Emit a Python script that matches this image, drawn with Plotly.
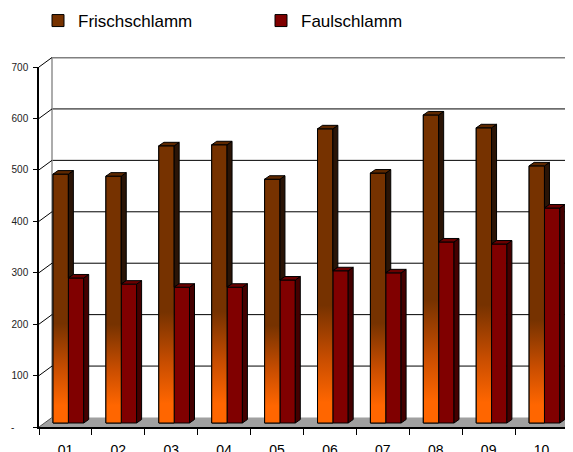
import plotly.graph_objects as go

# ---------------- data ----------------
months = ["01", "02", "03", "04", "05", "06", "07", "08", "09", "10"]
frisch = [484, 480, 539, 541, 474, 572, 486, 599, 574, 500]
faul = [282, 270, 264, 264, 278, 296, 292, 352, 348, 418]
series_names = ["Frischschlamm", "Faulschlamm"]
y_ticks = [0, 100, 200, 300, 400, 500, 600, 700]
y_ticktext = ["-\u00a0\u00a0\u00a0\u00a0\u00a0", "100", "200", "300", "400", "500", "600", "700"]

# ---------------- geometry / style ----------------
PAGE_OFF = 8             # default body margin of the html page
W, H = 573 - PAGE_OFF, 452 - PAGE_OFF
L, R, T, B = 39 - PAGE_OFF, 0, 57 - PAGE_OFF, 25
PW = W - L - R           # plot area width (px)
PH = H - T - B           # plot area height (px)
FRONT_W = 529            # px of front category axis
FRONT_H = 360            # px of front value axis (0..700)
n = len(months)
VMAX = y_ticks[-1]
cat_px = FRONT_W / n
val_px = FRONT_H / VMAX
X0 = -0.5
XMAX = X0 + PW / cat_px
YMAX = PH / val_px
DX = 13 / cat_px          # back-wall depth offset (x)
DY = 9.5 / val_px         # back-wall depth offset (y)
BASE = 4 / val_px         # bars stand at mid depth
SDX = 5 / cat_px          # bar depth (x)
SDY = 3.5 / val_px        # bar depth (y)
OFF_F = -0.235
BW = 0.29
OFF_A = OFF_F + BW

C_FR = "#763200"
C_FR_SIDE = "#2A1406"
C_FR_TOP = "#5E2800"
C_FA = "#800000"
C_FA_SIDE = "#440000"
C_FA_TOP = "#6A0000"
FONT = "Liberation Sans, Arial, sans-serif"

idx = list(range(n))
fig = go.Figure()

# front faces as bars
fig.add_trace(go.Bar(x=idx, y=frisch, base=BASE, offset=OFF_F, width=BW,
                     name=series_names[0], marker=dict(color=C_FR, line=dict(color="black", width=1))))
fig.add_trace(go.Bar(x=idx, y=faul, base=BASE, offset=OFF_A, width=BW,
                     name=series_names[1], marker=dict(color=C_FA, line=dict(color="black", width=1))))

# gradient shading of the Frischschlamm front faces
for i, v in enumerate(frisch):
    xl, xr = i + OFF_F, i + OFF_F + BW
    fig.add_trace(go.Scatter(
        x=[xl, xl, xr, xr, xl], y=[BASE, BASE + v, BASE + v, BASE, BASE],
        mode="lines", fill="toself", line=dict(color="black", width=1),
        fillgradient=dict(type="vertical",
                          colorscale=[[0, "#FF6600"], [0.45, "#C84D00"], [1, C_FR]],
                          start=BASE + 0.07 * v, stop=BASE + 0.40 * v),
        showlegend=False, hoverinfo="skip"))


def faces(vals, off, lower=None):
    sx, sy, tx, ty = [], [], [], []
    for i, v in enumerate(vals):
        xl, xr = i + off, i + off + BW
        top = BASE + v
        low = BASE if lower is None else BASE + min(lower[i], v)
        sx += [xr, xr, xr + SDX, xr + SDX, xr, None]
        sy += [low, top, top + SDY, low + SDY, low, None]
        tx += [xl, xr, xr + SDX, xl + SDX, xl, None]
        ty += [top, top, top + SDY, top + SDY, top, None]
    return sx, sy, tx, ty


fsx, fsy, ftx, fty = faces(frisch, OFF_F, lower=faul)
asx, asy, atx, aty = faces(faul, OFF_A)
for xs, ys, col in [(fsx, fsy, C_FR_SIDE), (ftx, fty, C_FR_TOP), (asx, asy, C_FA_SIDE), (atx, aty, C_FA_TOP)]:
    fig.add_trace(go.Scatter(x=xs, y=ys, mode="lines", fill="toself", fillcolor=col,
                             line=dict(color="black", width=1), showlegend=False, hoverinfo="skip"))

# invisible trace so that the front axes (ticks / labels) are drawn
fig.add_trace(go.Scatter(x=[0], y=[0], xaxis="x2", yaxis="y2", mode="markers",
                         marker=dict(opacity=0), showlegend=False, hoverinfo="skip"))

# ---------------- walls, floor, grid (below traces) ----------------
shapes = []
shapes.append(dict(type="path", xref="x", yref="y", layer="below",
                   path=f"M {X0},0 L {X0 + n},0 L {X0 + n + DX},{DY} L {X0 + DX},{DY} Z",
                   fillcolor="#A0A0A0", line=dict(width=0)))
for v in y_ticks[1:-1]:
    shapes.append(dict(type="line", xref="x", yref="y", layer="below",
                       x0=X0 + DX, x1=XMAX, y0=v + DY, y1=v + DY, line=dict(color="black", width=1)))
shapes.append(dict(type="line", xref="x", yref="y", layer="below",
                   x0=X0 + DX, x1=XMAX, y0=VMAX + DY, y1=VMAX + DY, line=dict(color="#808080", width=2)))
shapes.append(dict(type="line", xref="x", yref="y", layer="below",
                   x0=X0 + DX, x1=X0 + DX, y0=DY, y1=VMAX + DY, line=dict(color="#909090", width=1.5)))
for v in y_ticks:
    shapes.append(dict(type="line", xref="x", yref="y", layer="below",
                       x0=X0, x1=X0 + DX, y0=v, y1=v + DY,
                       line=dict(color="black" if v else "#555555", width=1)))

fig.update_layout(
    width=W, height=H,
    margin=dict(l=L, r=R, t=T, b=B, pad=0, autoexpand=False),
    paper_bgcolor="white", plot_bgcolor="rgba(0,0,0,0)",
    barmode="overlay",
    shapes=shapes,
    font=dict(family=FONT, color="black"),
    xaxis=dict(domain=[0, 1], range=[X0, XMAX], visible=False, anchor="y"),
    yaxis=dict(domain=[0, 1], range=[0, YMAX], visible=False, anchor="x"),
    xaxis2=dict(domain=[0, FRONT_W / PW], range=[X0, X0 + n], anchor="y2",
                tickmode="array", tickvals=idx, ticktext=months,
                ticks="outside", ticklen=9, tickcolor="rgba(0,0,0,0)",
                minor=dict(tickmode="array", tickvals=[X0 + k for k in range(n + 1)],
                           ticks="outside", ticklen=6, tickcolor="black", tickwidth=1, showgrid=False),
                showline=True, linecolor="black", linewidth=1.5,
                showgrid=False, zeroline=False, tickfont=dict(size=14, color="black")),
    yaxis2=dict(domain=[0, FRONT_H / PH], range=[0, VMAX], anchor="x2",
                tickmode="array", tickvals=y_ticks, ticktext=y_ticktext,
                ticks="outside", ticklen=4, tickcolor="black", tickwidth=1, ticklabelstandoff=3,
                showline=True, linecolor="black", linewidth=1.5,
                showgrid=False, zeroline=False, tickfont=dict(size=10, color="#222222")),
    legend=dict(orientation="h", x=(38 - 39) / PW, y=(PH + T + 5) / PH, xanchor="left", yanchor="top",
                font=dict(size=17, color="black"), entrywidth=178, entrywidthmode="pixels",
                bgcolor="rgba(0,0,0,0)", traceorder="normal"),
    showlegend=True,
)

fig.write_html("out.html")
